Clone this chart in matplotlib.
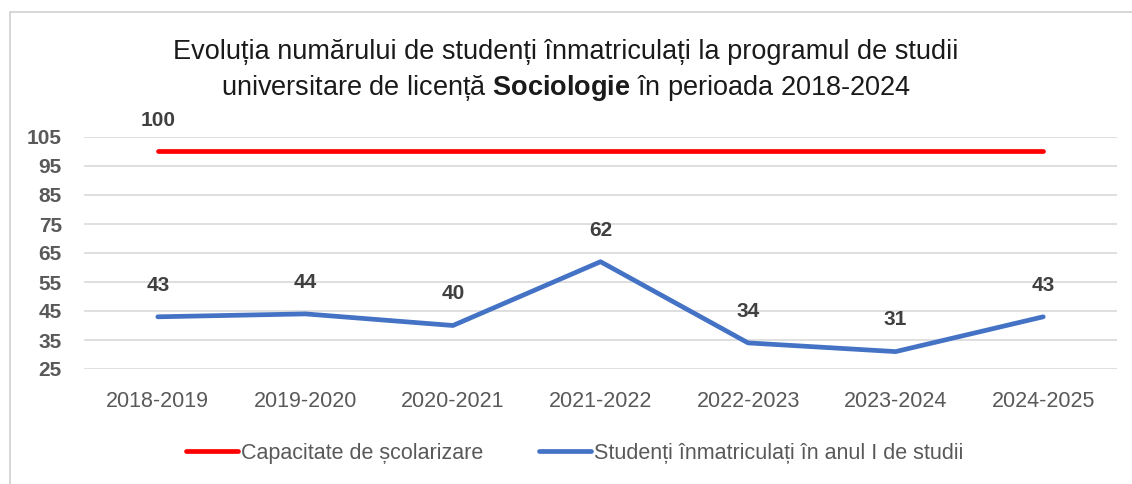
import matplotlib
matplotlib.use("Agg")
import matplotlib.pyplot as plt
from matplotlib.patches import Rectangle

plt.rcParams["font.family"] = ["Liberation Sans", "DejaVu Sans"]
plt.rcParams["mathtext.fontset"] = "custom"
plt.rcParams["mathtext.rm"] = "Liberation Sans"
plt.rcParams["mathtext.bf"] = "Liberation Sans:bold"

years = ["2018-2019", "2019-2020", "2020-2021", "2021-2022",
         "2022-2023", "2023-2024", "2024-2025"]
capacity = [100, 100, 100, 100, 100, 100, 100]
enrolled = [43, 44, 40, 62, 34, 31, 43]
yticks = [25, 35, 45, 55, 65, 75, 85, 95, 105]

RED = "#ff0000"
BLUE = "#4472c4"
GRID = "#d9d9d9"
TXT = "#595959"
W, H = 1132, 484

fig = plt.figure(figsize=(W / 100, H / 100), dpi=100)
fig.patch.set_facecolor("white")
# chart frame (right and bottom edges run off the picture)
fig.patches.append(Rectangle((10 / W, -0.01), 1.2, 1 - 12 / H + 0.01,
                             transform=fig.transFigure, fill=False,
                             edgecolor="#d0d0d0", lw=1.2))

ax = fig.add_axes([84 / W, (H - 369) / H, (1117 - 84) / W, (369 - 137) / H])
x = list(range(len(years)))
ax.plot(x, capacity, color=RED, lw=3.4, solid_capstyle="round", clip_on=False,
        label="Capacitate de școlarizare")
ax.plot(x, enrolled, color=BLUE, lw=3.4, solid_capstyle="round", clip_on=False,
        label="Studenți înmatriculați în anul I de studii")

ax.text(x[0], capacity[0] + 10.7, str(capacity[0]), ha="center", va="center",
        fontsize=15, fontweight="bold", color="#404040")
for xi, v in zip(x, enrolled):
    ax.text(xi, v + 10.9, str(v), ha="center", va="center",
            fontsize=15, fontweight="bold", color="#404040")

ax.set_xlim(-0.5, len(years) - 0.5)
ax.set_ylim(25, 105)
ax.set_yticks(yticks)
ax.set_yticklabels([str(t) for t in yticks], fontsize=15, fontweight="bold", color=TXT)
ax.set_xticks(x)
ax.set_xticklabels(years, fontsize=15.5, color=TXT)
ax.tick_params(axis="x", length=0, pad=16)
ax.tick_params(axis="y", length=0, pad=16)
ax.grid(axis="y", color=GRID, lw=1.2)
ax.set_axisbelow(True)
for s in ax.spines.values():
    s.set_visible(False)

fig.text(0.5, 1 - 52 / H, "Evoluția numărului de studenți înmatriculați la programul de studii",
         ha="center", va="center", fontsize=19.5, color="#1a1a1a")
fig.text(0.5, 1 - 88 / H, "universitare de licență $\\mathbf{Sociologie}$ în perioada 2018-2024",
         ha="center", va="center", fontsize=19.5, color="#1a1a1a")

fig.legend(loc="center", bbox_to_anchor=(0.508, 1 - 453 / H), ncol=2,
           frameon=False, fontsize=15.5, labelcolor=TXT, handlelength=2.4,
           handletextpad=0.15, columnspacing=2.6)

fig.savefig("out.png", dpi=100)
